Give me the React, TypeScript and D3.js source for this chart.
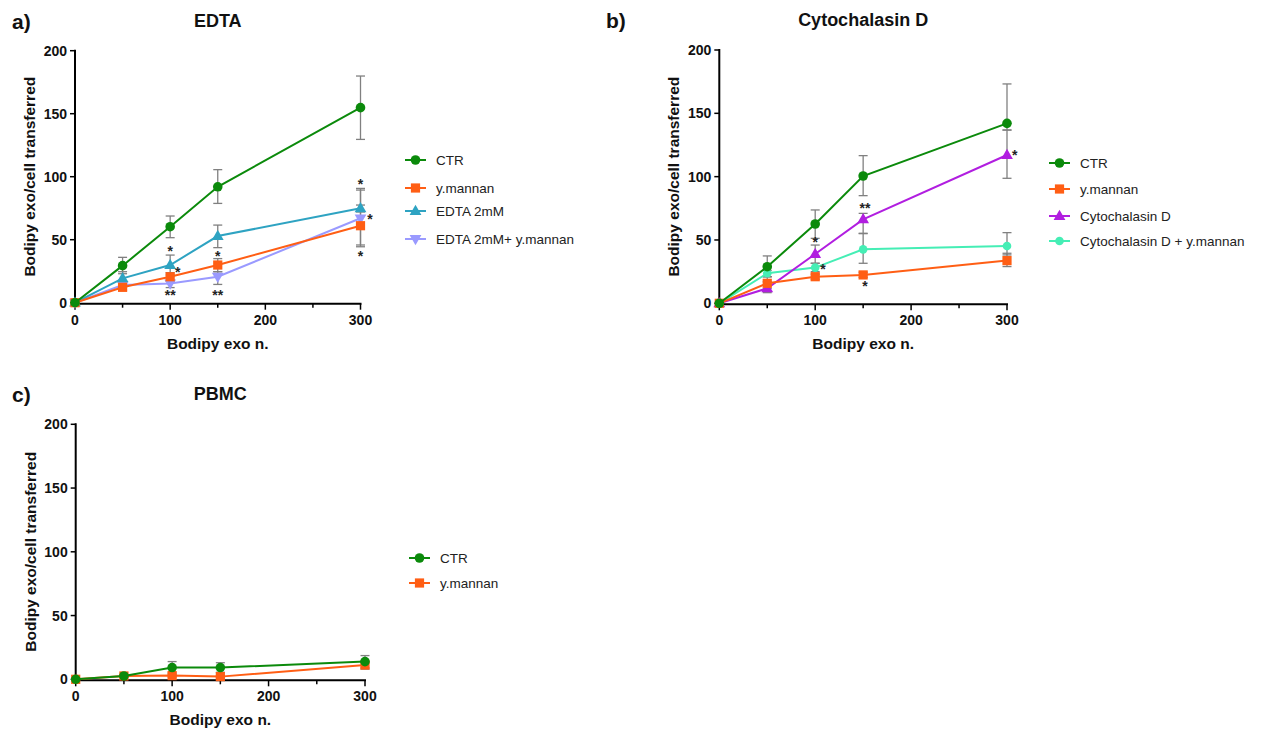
import React from 'react';
import * as d3 from 'd3';

const xValues = [0, 50, 100, 150, 300];
const yTicks = [0, 50, 100, 150, 200];
const xMajorTicks = [0, 100, 200, 300];
const xMinorTicks = [50, 150, 250];

// Panel a (EDTA)
const aCtrMean = [0, 29.4, 60.3, 92, 154.8];
const aCtrHi = [0, 36, 68.8, 105.6, 179.9];
const aCtrLo = [0, 23, 51.6, 78.8, 129.6];
const aMannanMean = [0, 12.2, 20.6, 29.9, 61.1];
const aMannanHi = [0, 14, 23.8, 35, 89.4];
const aMannanLo = [0, 10, 17, 24.6, 45.8];
const aEdtaMean = [0, 19.3, 29.9, 52.9, 74.9];
const aEdtaHi = [0, 24.6, 37.8, 61.6, 77.5];
const aEdtaLo = [0, 15, 22, 43.7, 72];
const aEdtaMannanMean = [0, 14, 15.3, 20.6, 67];
const aEdtaMannanHi = [0, 16, 18, 24.6, 90.7];
const aEdtaMannanLo = [0, 12, 12, 14.5, 44.4];
const aStars = [
  { x: 100, y: 43, t: '*' },
  { x: 108, y: 26, t: '*' },
  { x: 100, y: 7.5, t: '**' },
  { x: 150, y: 39, t: '*' },
  { x: 150, y: 7.5, t: '**' },
  { x: 300, y: 96, t: '*' },
  { x: 310, y: 68, t: '*' },
  { x: 300, y: 39, t: '*' },
];

// Panel b (Cytochalasin D)
const bCtrMean = [0, 28.9, 62.6, 100.5, 142.1];
const bCtrHi = [0, 37.4, 73.7, 116.6, 173.2];
const bCtrLo = [0, 21, 51.3, 85, 136.8];
const bMannanMean = [0, 15.8, 21, 22.4, 33.7];
const bMannanHi = [0, 21, 23, 24.5, 39.5];
const bMannanLo = [0, 11.8, 19, 20.5, 29];
const bCytoMean = [0, 11.8, 38.9, 66.3, 117.1];
const bCytoHi = [0, 17, 46, 71, 136.8];
const bCytoLo = [0, 8.4, 31.6, 55, 98.7];
const bCytoMannanMean = [0, 23.7, 28.2, 42.6, 45.3];
const bCytoMannanHi = [0, 26, 31.6, 55.3, 55.8];
const bCytoMannanLo = [0, 21, 25, 31.6, 38.2];
const bStars = [
  { x: 100, y: 50, t: '*' },
  { x: 108, y: 29, t: '*' },
  { x: 152, y: 77, t: '**' },
  { x: 152, y: 15, t: '*' },
  { x: 308, y: 119, t: '*' },
];

// Panel c (PBMC)
const cCtrMean = [0, 2.6, 9.2, 9.2, 13.9];
const cCtrHi = [0, 3.5, 13.9, 13, 18.6];
const cCtrLo = [0, 1.8, 5, 5.5, 9];
const cMannanMean = [0, 2.6, 2.9, 2.1, 11.2];
const cMannanHi = [0, 3.2, 4, 3, 13];
const cMannanLo = [0, 2, 1.8, 1.2, 8];

const GREEN = '#0b8a0b';
const ORANGE = '#ff5e14';
const TEAL = '#2ea3c2';
const LAVENDER = '#9a9aff';
const PURPLE = '#b11ee0';
const AQUA = '#45eeb5';
const FONT = '"Liberation Sans", Arial, sans-serif';

type Shape = 'circle' | 'square' | 'tri' | 'itri' | 'smallcircle';
interface Series {
  name: string;
  color: string;
  shape: Shape;
  mean: number[];
  hi: number[];
  lo: number[];
}

function Marker({ shape, color, cx, cy }: { shape: Shape; color: string; cx: number; cy: number }) {
  if (shape === 'circle') return <circle cx={cx} cy={cy} r={4.8} fill={color} />;
  if (shape === 'smallcircle') return <circle cx={cx} cy={cy} r={4.3} fill={color} />;
  if (shape === 'square') return <rect x={cx - 4.6} y={cy - 4.6} width={9.2} height={9.2} fill={color} />;
  const sym = d3.symbol().type(d3.symbolTriangle).size(60)();
  const rot = shape === 'itri' ? 180 : 0;
  return <path d={sym || ''} transform={`translate(${cx},${cy + (shape === 'itri' ? -0.5 : 0.5)}) rotate(${rot})`} fill={color} />;
}

interface PanelProps {
  label: string;
  labelX: number;
  title: string;
  left: number;
  right: number;
  top: number;
  bottom: number;
  series: Series[];
  stars: { x: number; y: number; t: string }[];
  legendX: number;
  legendYs: number[];
}

function Panel(p: PanelProps) {
  const x = d3.scaleLinear().domain([0, 300]).range([p.left, p.right]);
  const y = d3.scaleLinear().domain([0, 200]).range([p.bottom, p.top]);
  const line = d3
    .line<number>()
    .x((_, i) => x(xValues[i]))
    .y((d) => y(d));
  const mid = (p.left + p.right) / 2;
  const drawOrder = [...p.series].reverse();
  return (
    <g>
      <text x={p.labelX} y={p.top - 22} fontFamily={FONT} fontWeight="bold" fontSize={21} fill="#111">
        {p.label}
      </text>
      <text x={mid} y={p.top - 24} textAnchor="middle" fontFamily={FONT} fontWeight="bold" fontSize={18} fill="#111">
        {p.title}
      </text>
      {/* axes */}
      <line x1={p.left} x2={p.left} y1={p.top - 1} y2={p.bottom + 2} stroke="#000" strokeWidth={2} />
      <line x1={p.left - 1} x2={p.right + 1} y1={p.bottom + 1} y2={p.bottom + 1} stroke="#000" strokeWidth={2} />
      {yTicks.map((t) => (
        <g key={'y' + t}>
          <line x1={p.left - 5} x2={p.left} y1={y(t)} y2={y(t)} stroke="#000" strokeWidth={1.5} />
          <text x={p.left - 8} y={y(t) + 5} textAnchor="end" fontFamily={FONT} fontWeight="bold" fontSize={14} fill="#111">
            {t}
          </text>
        </g>
      ))}
      {xMajorTicks.map((t) => (
        <g key={'x' + t}>
          <line x1={x(t)} x2={x(t)} y1={p.bottom + 1} y2={p.bottom + 7} stroke="#000" strokeWidth={1.5} />
          <text x={x(t)} y={p.bottom + 22} textAnchor="middle" fontFamily={FONT} fontWeight="bold" fontSize={14} fill="#111">
            {t}
          </text>
        </g>
      ))}
      {xMinorTicks.map((t) => (
        <line key={'m' + t} x1={x(t)} x2={x(t)} y1={p.bottom + 1} y2={p.bottom + 5} stroke="#000" strokeWidth={1.5} />
      ))}
      <text x={mid} y={p.bottom + 46} textAnchor="middle" fontFamily={FONT} fontWeight="bold" fontSize={15.5} fill="#111">
        Bodipy exo n.
      </text>
      <text
        transform={`translate(${p.left - 40},${(p.top + p.bottom) / 2}) rotate(-90)`}
        textAnchor="middle"
        fontFamily={FONT}
        fontWeight="bold"
        fontSize={15.5}
        fill="#111"
      >
        Bodipy exo/cell transferred
      </text>
      {/* error bars */}
      {drawOrder.map((s) =>
        xValues.map((xv, i) =>
          i === 0 ? null : (
            <g key={s.name + 'e' + i} stroke="#808080" strokeWidth={1.3}>
              <line x1={x(xv)} x2={x(xv)} y1={y(s.hi[i])} y2={y(s.lo[i])} />
              <line x1={x(xv) - 4.5} x2={x(xv) + 4.5} y1={y(s.hi[i])} y2={y(s.hi[i])} />
              <line x1={x(xv) - 4.5} x2={x(xv) + 4.5} y1={y(s.lo[i])} y2={y(s.lo[i])} />
            </g>
          )
        )
      )}
      {drawOrder.map((s) => (
        <g key={s.name + 'l'}>
          <path d={line(s.mean) || ''} fill="none" stroke={s.color} strokeWidth={2} />
          {s.mean.map((v, i) => (
            <Marker key={i} shape={s.shape} color={s.color} cx={x(xValues[i])} cy={y(v)} />
          ))}
        </g>
      ))}
      {p.stars.map((st, i) => (
        <text key={'s' + i} x={x(st.x)} y={y(st.y) + 7} textAnchor="middle" fontFamily={FONT} fontWeight="bold" fontSize={14} fill="#222">
          {st.t}
        </text>
      ))}
      {/* legend */}
      {p.series.map((s, i) => (
        <g key={s.name + 'leg'}>
          <line x1={p.legendX} x2={p.legendX + 21} y1={p.legendYs[i]} y2={p.legendYs[i]} stroke={s.color} strokeWidth={2} />
          <Marker shape={s.shape} color={s.color} cx={p.legendX + 10.5} cy={p.legendYs[i]} />
          <text x={p.legendX + 31} y={p.legendYs[i] + 4.5} fontFamily={FONT} fontSize={13.5} fill="#222">
            {s.name}
          </text>
        </g>
      ))}
    </g>
  );
}

export default function App() {
  const aSeries: Series[] = [
    { name: 'CTR', color: GREEN, shape: 'circle', mean: aCtrMean, hi: aCtrHi, lo: aCtrLo },
    { name: 'y.mannan', color: ORANGE, shape: 'square', mean: aMannanMean, hi: aMannanHi, lo: aMannanLo },
    { name: 'EDTA 2mM', color: TEAL, shape: 'tri', mean: aEdtaMean, hi: aEdtaHi, lo: aEdtaLo },
    { name: 'EDTA 2mM+ y.mannan', color: LAVENDER, shape: 'itri', mean: aEdtaMannanMean, hi: aEdtaMannanHi, lo: aEdtaMannanLo },
  ];
  const bSeries: Series[] = [
    { name: 'CTR', color: GREEN, shape: 'circle', mean: bCtrMean, hi: bCtrHi, lo: bCtrLo },
    { name: 'y.mannan', color: ORANGE, shape: 'square', mean: bMannanMean, hi: bMannanHi, lo: bMannanLo },
    { name: 'Cytochalasin D', color: PURPLE, shape: 'tri', mean: bCytoMean, hi: bCytoHi, lo: bCytoLo },
    { name: 'Cytochalasin D + y.mannan', color: AQUA, shape: 'smallcircle', mean: bCytoMannanMean, hi: bCytoMannanHi, lo: bCytoMannanLo },
  ];
  const cSeries: Series[] = [
    { name: 'CTR', color: GREEN, shape: 'circle', mean: cCtrMean, hi: cCtrHi, lo: cCtrLo },
    { name: 'y.mannan', color: ORANGE, shape: 'square', mean: cMannanMean, hi: cMannanHi, lo: cMannanLo },
  ];
  return (
    <svg width={1269} height={731} style={{ position: 'absolute', left: 0, top: 0, background: '#fff' }}>
      <Panel label="a)" labelX={12} title="EDTA" left={75} right={360.5} top={50.7} bottom={302.7} series={aSeries} stars={aStars} legendX={405} legendYs={[160, 188, 211, 239]} />
      <Panel label="b)" labelX={606} title="Cytochalasin D" left={719.3} right={1007} top={50} bottom={303.3} series={bSeries} stars={bStars} legendX={1049} legendYs={[163, 189, 216, 241]} />
      <Panel label="c)" labelX={12} title="PBMC" left={75.7} right={365} top={424.3} bottom={679.3} series={cSeries} stars={[]} legendX={409} legendYs={[558, 583]} />
    </svg>
  );
}
